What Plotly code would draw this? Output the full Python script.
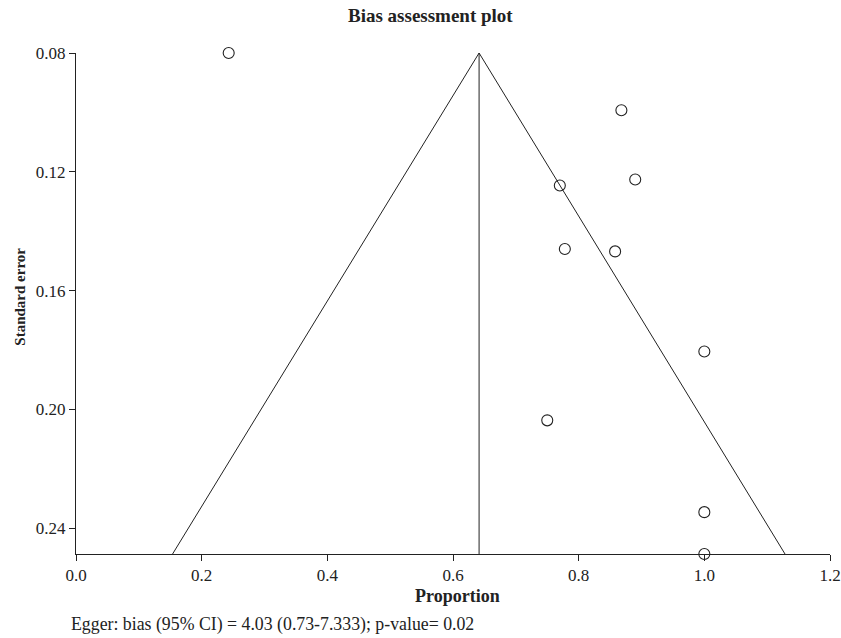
import plotly.graph_objects as go

# Study-level estimates
proportion = [0.243, 0.868, 0.890, 0.770, 0.778, 0.858, 1.0, 0.750, 1.0, 1.0]
std_error = [0.080, 0.0993, 0.1226, 0.1246, 0.1460, 0.1468, 0.1805, 0.2037, 0.2346, 0.2487]

# Pooled estimate and funnel limits
pooled = 0.6415
se_top = 0.08
se_bottom = 0.2487
funnel_left = 0.1537
funnel_right = 1.1284

x_ticks = [0.0, 0.2, 0.4, 0.6, 0.8, 1.0, 1.2]
y_ticks = [0.08, 0.12, 0.16, 0.20, 0.24]

FONT = "Liberation Serif"
INK = "#222222"

fig = go.Figure()

# Funnel outline
fig.add_trace(go.Scatter(
    x=[funnel_left, pooled, funnel_right],
    y=[se_bottom, se_top, se_bottom],
    mode="lines", line=dict(color=INK, width=1), hoverinfo="skip",
    cliponaxis=False,
))
# Pooled estimate line
fig.add_trace(go.Scatter(
    x=[pooled, pooled], y=[se_top, se_bottom],
    mode="lines", line=dict(color=INK, width=1), hoverinfo="skip",
    cliponaxis=False,
))
# Studies
fig.add_trace(go.Scatter(
    x=proportion, y=std_error, mode="markers",
    marker=dict(symbol="circle-open", size=11, color=INK, line=dict(width=1.1)),
    cliponaxis=False,
))

fig.update_layout(
    width=841, height=638,
    margin=dict(l=76, r=11, t=53, b=84),
    paper_bgcolor="white", plot_bgcolor="white",
    showlegend=False,
    font=dict(family=FONT, color=INK, size=17),
    xaxis=dict(
        range=[0, 1.2], tickvals=x_ticks, ticktext=[f"{v:.1f}" for v in x_ticks],
        showline=True, linecolor=INK, linewidth=1, showgrid=False, zeroline=False,
        ticks="outside", ticklen=6, tickcolor=INK, tickfont=dict(size=17),
        automargin=False,
    ),
    yaxis=dict(
        range=[se_bottom, se_top], tickvals=y_ticks, ticktext=[f"{v:.2f}" for v in y_ticks],
        showline=True, linecolor=INK, linewidth=1, showgrid=False, zeroline=False,
        ticks="outside", ticklen=6, tickcolor=INK, tickfont=dict(size=17),
        automargin=False,
    ),
    annotations=[
        dict(text="<b>Bias assessment plot</b>", xref="paper", yref="paper",
             x=0.4697, y=1.074, xanchor="center", yanchor="middle",
             showarrow=False, font=dict(size=19)),
        dict(text="<b>Proportion</b>", xref="paper", yref="paper",
             x=0.506, y=-0.084, xanchor="center", yanchor="middle",
             showarrow=False, font=dict(size=18)),
        dict(text="<b>Standard error</b>", xref="paper", yref="paper",
             x=-0.074, y=0.514, xanchor="center", yanchor="middle", textangle=-90,
             showarrow=False, font=dict(size=15)),
        dict(text="Egger: bias (95% CI) = 4.03 (0.73-7.333); p-value= 0.02",
             xref="paper", yref="paper", x=-0.0098, y=-0.141,
             xanchor="left", yanchor="middle", showarrow=False, font=dict(size=17.8)),
    ],
)

fig.write_html("out.html")
